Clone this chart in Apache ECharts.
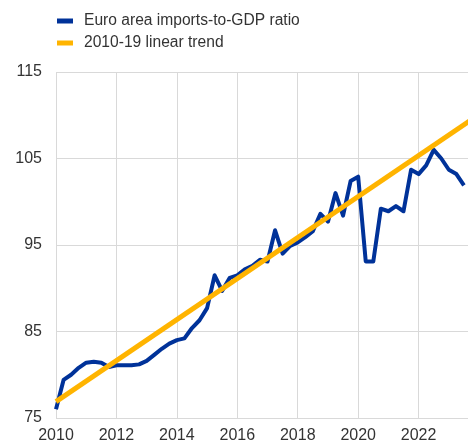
<!DOCTYPE html>
<html>
<head>
<meta charset="utf-8">
<script src="https://cdn.jsdelivr.net/npm/echarts@6/dist/echarts.min.js"></script>
<style>
  html, body { margin: 0; padding: 0; background: #fff; }
  #chart { width: 468px; height: 443px; }
</style>
</head>
<body>
<div id="chart"></div>
<script>
// quarterly observations, 2010Q1 .. 2023Q3
const quarters = [
  '2010Q1', '2010Q2', '2010Q3', '2010Q4',
  '2011Q1', '2011Q2', '2011Q3', '2011Q4',
  '2012Q1', '2012Q2', '2012Q3', '2012Q4',
  '2013Q1', '2013Q2', '2013Q3', '2013Q4',
  '2014Q1', '2014Q2', '2014Q3', '2014Q4',
  '2015Q1', '2015Q2', '2015Q3', '2015Q4',
  '2016Q1', '2016Q2', '2016Q3', '2016Q4',
  '2017Q1', '2017Q2', '2017Q3', '2017Q4',
  '2018Q1', '2018Q2', '2018Q3', '2018Q4',
  '2019Q1', '2019Q2', '2019Q3', '2019Q4',
  '2020Q1', '2020Q2', '2020Q3', '2020Q4',
  '2021Q1', '2021Q2', '2021Q3', '2021Q4',
  '2022Q1', '2022Q2', '2022Q3', '2022Q4',
  '2023Q1', '2023Q2', '2023Q3'
]

// Euro area imports-to-GDP ratio
const importsRatio = [
  76.0, 79.4, 80.0, 80.8,
  81.4, 81.5, 81.4, 80.9,
  81.1, 81.1, 81.1, 81.2,
  81.6, 82.3, 83.0, 83.6,
  84.0, 84.2, 85.4, 86.3,
  87.7, 91.5, 89.7, 91.2,
  91.5, 92.2, 92.6, 93.3,
  93.1, 96.7, 94.0, 94.9,
  95.3, 95.9, 96.6, 98.6,
  97.7, 101.0, 98.4, 102.4,
  102.9, 93.1, 93.1, 99.2,
  98.9, 99.5, 98.9, 103.7,
  103.2, 104.2, 106.0, 105.0,
  103.7, 103.2, 101.9
]

// 2010-19 linear trend, start and end of the drawn line
const trendYears = [2010, 2023.75]
const trendValues = [76.9, 109.5]

const yTicks = [75, 85, 95, 105, 115]

const seriesNames = ['Euro area imports-to-GDP ratio', '2010-19 linear trend']

function quarterToYear(q) {
  return Number(q.slice(0, 4)) + (Number(q.slice(5)) - 1) / 4
}

const chart = echarts.init(document.getElementById('chart'))

const textColor = '#333333'
const gridColor = '#d9d9d9'
const fontFamily = '"Liberation Sans", Arial, sans-serif'

chart.setOption({
  animation: false,
  color: ['#003299', '#ffb400'],
  legend: {
    orient: 'vertical',
    left: 52,
    top: 7,
    itemWidth: 16,
    itemHeight: 5,
    itemGap: 4,
    icon: 'rect',
    data: seriesNames,
    textStyle: {
      color: textColor,
      fontSize: 15.6,
      lineHeight: 18,
      fontFamily,
      padding: [0, 0, 0, 6]
    }
  },
  grid: {
    left: 56,
    top: 72,
    width: 415.5,
    height: 346,
    containLabel: false,
    outerBoundsMode: 'none'
  },
  xAxis: {
    type: 'value',
    min: 2010,
    max: 2023.75,
    interval: 2,
    axisLine: { show: false },
    axisTick: { show: false },
    splitLine: { show: true, lineStyle: { color: gridColor, width: 1 } },
    axisLabel: {
      color: textColor,
      fontSize: 16,
      fontFamily,
      margin: 10,
      formatter: (v) => (v % 2 === 0 ? String(v) : '')
    }
  },
  yAxis: {
    type: 'value',
    min: yTicks[0],
    max: yTicks[yTicks.length - 1],
    interval: 10,
    axisLine: { show: false },
    axisTick: { show: false },
    splitLine: { show: true, lineStyle: { color: gridColor, width: 1 } },
    axisLabel: {
      color: textColor,
      fontSize: 16,
      fontFamily,
      margin: 14
    }
  },
  series: [
    {
      name: seriesNames[0],
      type: 'line',
      showSymbol: false,
      data: quarters.map((q, i) => [quarterToYear(q), importsRatio[i]]),
      lineStyle: { width: 4, color: '#003299', join: 'round' },
      itemStyle: { color: '#003299' },
      z: 2
    },
    {
      name: seriesNames[1],
      type: 'line',
      showSymbol: false,
      data: trendYears.map((y, i) => [y, trendValues[i]]),
      lineStyle: { width: 5, color: '#ffb400' },
      itemStyle: { color: '#ffb400' },
      z: 3
    }
  ]
})
</script>
</body>
</html>
